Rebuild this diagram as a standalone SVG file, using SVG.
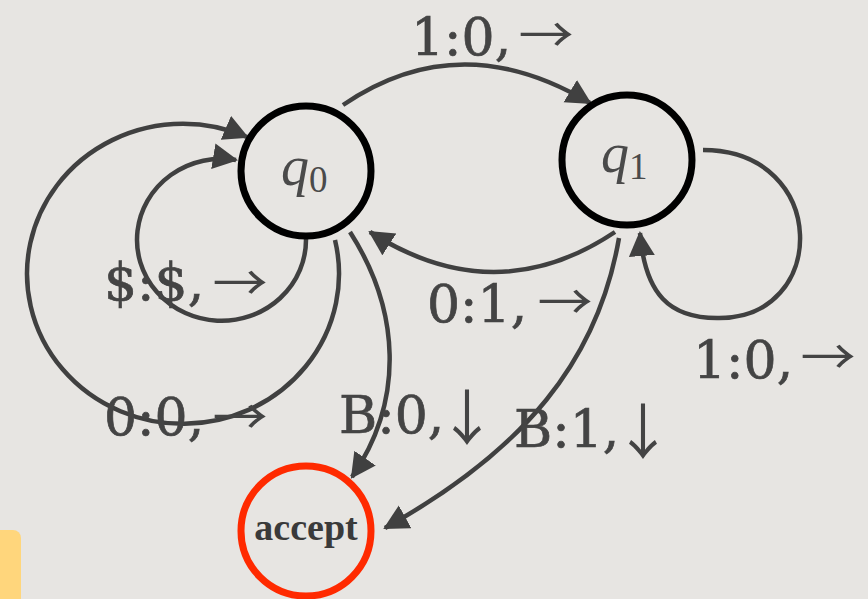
<svg xmlns="http://www.w3.org/2000/svg" width="868" height="599" viewBox="0 0 868 599">
<style>
.edge{fill:none;stroke:#404040;stroke-width:4.5;marker-end:url(#ah)}
.node{fill:none;stroke:#000;stroke-width:7}
.acc{fill:none;stroke:#ff2a00;stroke-width:7}
.st{font-family:"Liberation Serif",serif;fill:#4a4a4a}
.lbl{font-family:"DejaVu Serif",serif;font-size:52px;fill:#444;stroke:#444;stroke-width:0.7}
.arr{font-family:"Noto Sans CJK JP","Noto Sans CJK SC",sans-serif;font-size:48px;fill:#444;text-anchor:middle}
.darr{font-family:"Noto Sans CJK JP","Noto Sans CJK SC",sans-serif;font-size:60px;fill:#444;text-anchor:middle}
</style>
<defs>
<marker id="ah" markerUnits="userSpaceOnUse" markerWidth="28" markerHeight="28" refX="23" refY="13" orient="auto">
<path d="M0,0 L25,13 L0,26 z" fill="#404040"/>
</marker>
</defs>
<rect width="868" height="599" fill="#e7e5e2"/>
<path d="M0,530 H13 A8,8 0 0 1 21,538 V599 H0 Z" fill="#ffd67c"/>
<g id="edges">
<path class="edge" d="M343,105 Q460,25 590,103"/>
<path class="edge" d="M615,232 Q495,312 370,232"/>
<path class="edge" d="M703,150 C830,150 830,320 717,318 C670,318 645,295 640,233"/>
<path class="edge" d="M306,239 A84.5,81 0 1 1 236,160"/>
<path class="edge" d="M335,240 A156,150 0 1 1 247,137"/>
<path class="edge" d="M350,232 C400,310 405,400 352,477"/>
<path class="edge" d="M619,238 C598,360 525,450 385,528"/>
</g>
<g id="labels">
<text class="lbl" x="411" y="55">1:0,</text>
<text class="arr" transform="translate(546,52) scale(1.15,1)">→</text>
<text class="lbl" x="104" y="300">$:$,</text>
<text class="arr" transform="translate(240,300) scale(1.15,1)">→</text>
<text class="lbl" x="427" y="322">0:1,</text>
<text class="arr" transform="translate(565,319) scale(1.15,1)">→</text>
<text class="lbl" x="693" y="378">1:0,</text>
<text class="arr" transform="translate(828,374) scale(1.15,1)">→</text>
<text class="lbl" x="104" y="435">0:0,</text>
<text class="arr" transform="translate(240,434) scale(1.15,1)">→</text>
<text class="lbl" x="339" y="433">B:0,</text>
<text class="darr" x="467" y="440">↓</text>
<text class="lbl" x="514" y="447">B:1,</text>
<text class="darr" x="643" y="454">↓</text>
</g>
<g id="q0">
<circle class="node" cx="306" cy="171" r="65"/>
<text class="st" x="281" y="185" font-size="56" font-style="italic">q<tspan font-style="normal" font-size="37" dy="7">0</tspan></text>
</g>
<g id="q1">
<circle class="node" cx="627" cy="160" r="65"/>
<text class="st" x="601" y="172" font-size="56" font-style="italic">q<tspan font-style="normal" font-size="37" dy="7">1</tspan></text>
</g>
<g id="accept">
<circle class="acc" cx="306" cy="531" r="65"/>
<text x="306" y="540" text-anchor="middle" font-family="Liberation Serif,serif" font-weight="bold" font-size="38" fill="#3a3a3a">accept</text>
</g>
</svg>
